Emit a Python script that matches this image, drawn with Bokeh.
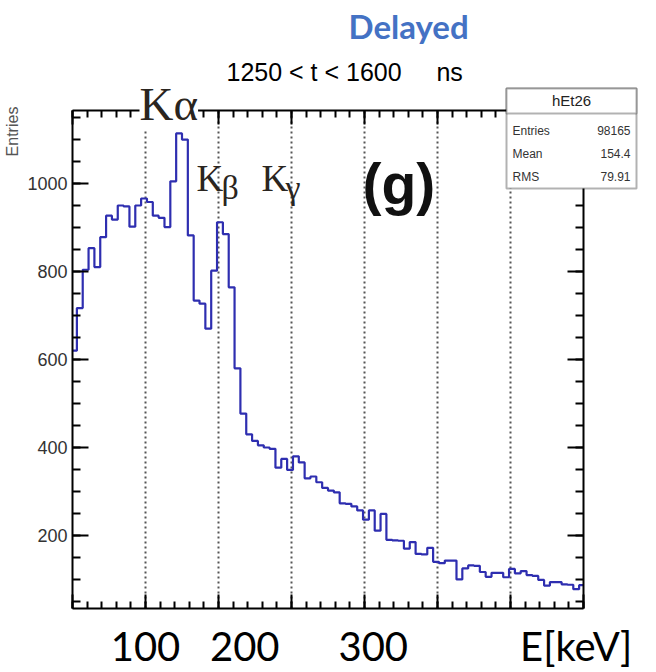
import numpy as np
from bokeh.plotting import figure
from bokeh.models import (LinearAxis, SingleIntervalTicker, FixedTicker, Range1d,
                          Label, BoxAnnotation, Grid)
from bokeh.embed import file_html
from bokeh.resources import INLINE

# ---------------- data ----------------
bin_lo = 49.0          # keV, first bin edge
bin_width = 4.0        # keV
counts = [620, 717, 804, 853, 810, 878, 927, 918, 950, 948,
          902, 950, 966, 958, 927, 922, 901, 1005, 1114, 1100,
          882, 734, 727, 670, 802, 912, 885, 764, 580, 477,
          430, 415, 405, 400, 397, 354, 374, 349, 380, 366,
          330, 334, 321, 308, 302, 298, 273, 272, 266, 257,
          236, 257, 211, 249, 190, 189, 188, 170, 185, 158,
          157, 172, 140, 137, 143, 143, 100, 125, 132, 131,
          117, 106, 115, 115, 105, 124, 114, 119, 110, 108,
          99, 86, 94, 94, 89, 88, 78, 87]
x_grid_lines = [100, 150, 200, 250, 300, 350]
bottom_label_pos = [100, 168, 256, 395]
bottom_label_text = ["100", "200", "300", "E[keV]"]
title_text = "Delayed"
subtitle_text = "1250 < t < 1600\u00a0\u00a0\u00a0\u00a0\u00a0ns"
y_title = "Entries"
hist_name = "hEt26"
stat_names = ["Entries", "Mean", "RMS"]
stat_values = ["98165", "154.4", "79.91"]

W, H = 656, 672
FL, FR, FT, FB = 72, 583, 110, 608   # histogram frame (canvas px)
X0, X1 = 50, 400
Y0, Y1 = 34, 1166
SX = (X1 - X0) / (FR - FL)
SY = (Y1 - Y0) / (FB - FT)

def dx(px):
    return X0 + (px - FL) * SX

def dy(py):
    return Y0 + (FB - py) * SY

edges = np.clip(bin_lo + bin_width * np.arange(len(counts) + 1), X0, X1)
ys = list(counts) + [counts[-1]]

# the drawing frame covers the whole page above the bottom axis panel
p = figure(width=W, height=H, output_backend="svg", toolbar_location=None, title=None,
           x_range=Range1d(dx(0), dx(W)), y_range=Range1d(Y0, dy(0)),
           min_border_left=0, min_border_right=0,
           min_border_top=0, min_border_bottom=H - FB)
p.background_fill_color = "white"
p.border_fill_color = "white"
p.outline_line_color = None
p.xgrid.visible = False
p.ygrid.visible = False

xt = SingleIntervalTicker(interval=50, num_minor_ticks=5)
yt = SingleIntervalTicker(interval=200, num_minor_ticks=4)

def style_axis(ax, maj, mnr):
    ax.axis_line_color = "black"
    ax.axis_line_width = 2
    ax.major_tick_in = maj
    ax.major_tick_out = 0
    ax.minor_tick_in = mnr
    ax.minor_tick_out = 0
    ax.major_tick_line_width = 2
    ax.minor_tick_line_width = 2
    ax.major_tick_line_color = "black"
    ax.minor_tick_line_color = "black"

# bottom tick axis
bx = p.xaxis[0]
bx.ticker = xt
bx.bounds = (X0, X1)
style_axis(bx, 14, 7)
bx.major_label_text_font_size = "0px"
bx.major_label_standoff = 0

# bottom label axis (big labels)
lab_ax = LinearAxis(ticker=FixedTicker(ticks=bottom_label_pos),
                    major_label_overrides={k: v for k, v in zip(bottom_label_pos, bottom_label_text)})
lab_ax.axis_line_color = None
lab_ax.major_tick_line_color = None
lab_ax.minor_tick_line_color = None
lab_ax.major_tick_in = 0
lab_ax.major_tick_out = 0
lab_ax.major_label_text_font = "Lato"
lab_ax.major_label_text_font_size = "40px"
lab_ax.major_label_text_color = "black"
lab_ax.major_label_standoff = 13
p.add_layout(lab_ax, "below")

# left axis at the histogram frame left
lx = p.yaxis[0]
lx.ticker = yt
lx.bounds = (Y0, Y1)
lx.fixed_location = X0
style_axis(lx, 16, 8)
lx.major_label_text_font = "Liberation Sans"
lx.major_label_text_font_size = "18px"
lx.major_label_text_color = "#333333"
lx.major_label_standoff = 5

# top axis at the histogram frame top
tx = LinearAxis(ticker=xt, fixed_location=Y1, bounds=(X0, X1))
style_axis(tx, 14, 7)
tx.major_label_text_font_size = "0px"
tx.major_label_standoff = 0
p.add_layout(tx, "above")

# right axis at the histogram frame right
rx = LinearAxis(ticker=yt, fixed_location=X1, bounds=(Y0, Y1))
style_axis(rx, 16, 8)
rx.major_label_text_font_size = "0px"
rx.major_label_standoff = 0
p.add_layout(rx, "right")

# dotted vertical grid
grid = Grid(dimension=0, ticker=FixedTicker(ticks=x_grid_lines),
            grid_line_color="#555555", grid_line_width=2, grid_line_dash="2 3")
p.add_layout(grid)
try:
    grid.cross_bounds = (Y0, Y1)
except Exception:
    p.add_layout(BoxAnnotation(bottom=Y1, fill_color="white", fill_alpha=1.0,
                               line_color=None, level="underlay"))

# titles
p.add_layout(Label(x=dx(348), y=dy(25), text=title_text, text_baseline="middle",
                   text_font="Lato", text_font_size="33px", text_font_style="bold",
                   text_color="#4472C4"))
p.add_layout(Label(x=dx(226), y=dy(71), text=subtitle_text, text_baseline="middle",
                   text_font="Liberation Sans", text_font_size="25px",
                   text_color="black"))

# y axis title
p.add_layout(Label(x=dx(12), y=dy(131), text=y_title, angle=np.pi / 2,
                   text_align="center", text_baseline="middle",
                   text_font="Liberation Sans", text_font_size="16px",
                   text_color="#555555"))

# histogram
p.step(x=edges, y=ys, mode="after", line_color="#2e2eb0", line_width=2.2)

# K labels
serif = "Liberation Serif"
kcol = "#2a2520"
p.add_layout(Label(x=dx(139), y=dy(103), text="K\u03b1", text_baseline="middle",
                   text_font=serif, text_font_size="47px", text_color=kcol,
                   background_fill_color="white"))
p.add_layout(Label(x=dx(196), y=dy(198), text="K", text_font=serif,
                   text_font_size="37px", text_color=kcol))
p.add_layout(Label(x=dx(221), y=dy(205), text="\u03b2", text_font=serif,
                   text_font_size="34px", text_color=kcol))
p.add_layout(Label(x=dx(261), y=dy(198), text="K", text_font=serif,
                   text_font_size="37px", text_color=kcol))
p.add_layout(Label(x=dx(285), y=dy(205), text="\u03b3", text_font=serif,
                   text_font_size="34px", text_color=kcol))
p.add_layout(Label(x=dx(362), y=dy(215), text="(g)", text_font="Liberation Sans",
                   text_font_style="bold", text_font_size="57px", text_color="#111111"))

# stats box
p.add_layout(BoxAnnotation(left=dx(506), right=dx(636), top=dy(88), bottom=dy(188),
                           fill_color="white", fill_alpha=1.0, line_color="black",
                           line_width=2, level="annotation"))
p.add_layout(BoxAnnotation(left=dx(506), right=dx(636), top=dy(88), bottom=dy(113),
                           fill_color="white", fill_alpha=1.0, line_color="black",
                           line_width=2, level="annotation"))
p.add_layout(Label(x=dx(571), y=dy(100), text=hist_name, text_align="center",
                   text_baseline="middle", text_font="Liberation Sans",
                   text_font_size="15px", text_color="#222222"))
for i, (nm, vl) in enumerate(zip(stat_names, stat_values)):
    yy = dy(130 + 23 * i)
    p.add_layout(Label(x=dx(512), y=yy, text=nm, text_align="left",
                       text_baseline="middle", text_font="Liberation Sans",
                       text_font_size="12px", text_color="#333333"))
    p.add_layout(Label(x=dx(630), y=yy, text=vl, text_align="right",
                       text_baseline="middle", text_font="Liberation Sans",
                       text_font_size="12px", text_color="#333333"))

open("out.html", "w").write(file_html(p, INLINE))
